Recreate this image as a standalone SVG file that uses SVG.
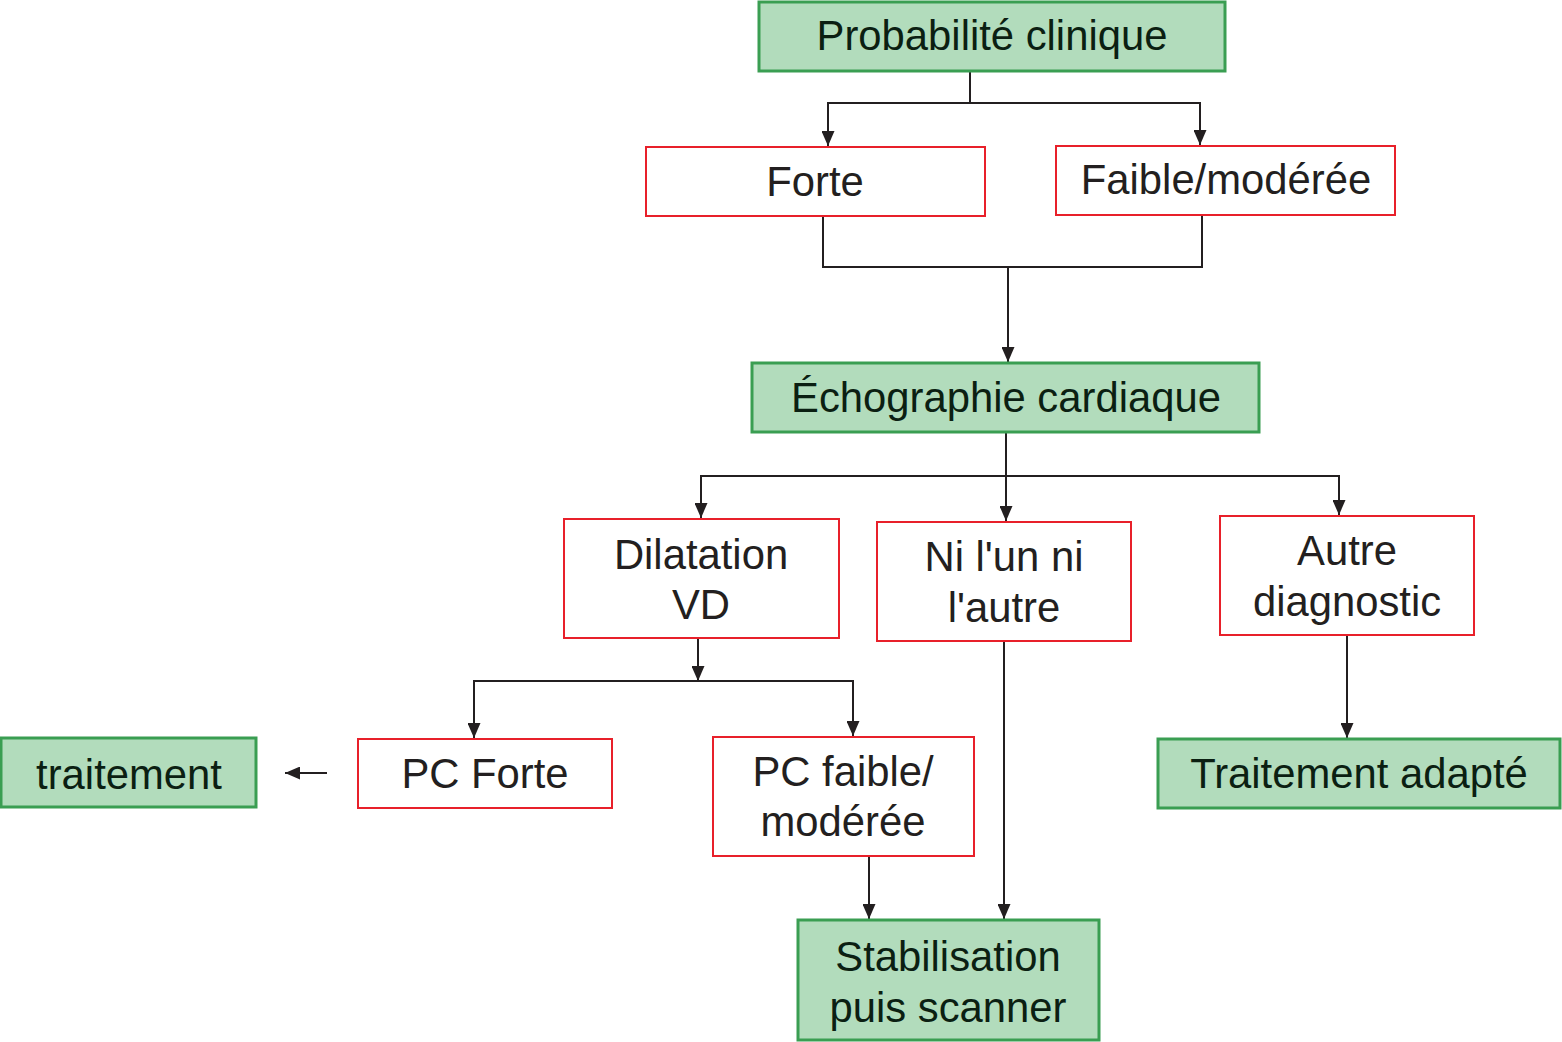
<svg xmlns="http://www.w3.org/2000/svg" width="1562" height="1042" viewBox="0 0 1562 1042">
<defs>
<style>
.g rect{fill:#b2dcbc;stroke:#3a9e52;stroke-width:3}
.r rect{fill:#fff;stroke:#e8202a;stroke-width:2}
text{font-family:"Liberation Sans",Arial,sans-serif;font-size:41.8px;text-anchor:middle}
.g text{fill:#0b1f12}
.r text{fill:#231f20}
#connectors path{fill:none;stroke:#231f20;stroke-width:2;marker-end:url(#arr)}
#connectors path.plain{marker-end:none}
</style>
<marker id="arr" viewBox="0 0 15 13" refX="15" refY="6.5" markerWidth="15" markerHeight="13" markerUnits="userSpaceOnUse" orient="auto">
<path d="M0,0 L15,6.5 L0,13 z" fill="#231f20"/>
</marker>
</defs>
<rect width="1562" height="1042" fill="#fff"/>
<g id="connectors">
<path class="plain" d="M970,71 V103"/>
<path d="M970,103 H828 V146"/>
<path d="M970,103 H1200 V145"/>
<path class="plain" d="M823,216 V267 H1202 V215"/>
<path d="M1008,267 V362"/>
<path class="plain" d="M1006,432 V476"/>
<path d="M1006,476 H701 V518"/>
<path d="M1006,476 V521"/>
<path d="M1006,476 H1339 V515"/>
<path d="M698,638 V681"/>
<path d="M698,681 H474 V738"/>
<path d="M698,681 H853 V736"/>
<path d="M327,773 H285"/>
<path d="M1347,635 V738"/>
<path d="M869,856 V919"/>
<path d="M1004,641 V919"/>
</g>
<g id="n-proba" class="g"><rect x="759" y="2" width="466" height="69"/><text x="992" y="50">Probabilité clinique</text></g>
<g id="n-forte" class="r"><rect x="646" y="147" width="339" height="69"/><text x="815" y="196">Forte</text></g>
<g id="n-faible" class="r"><rect x="1056" y="146" width="339" height="69"/><text x="1226" y="194">Faible/modérée</text></g>
<g id="n-echo" class="g"><rect x="752" y="363" width="507" height="69"/><text x="1006" y="412">Échographie cardiaque</text></g>
<g id="n-dilat" class="r"><rect x="564" y="519" width="275" height="119"/><text x="701" y="569">Dilatation</text><text x="701" y="619">VD</text></g>
<g id="n-ni" class="r"><rect x="877" y="522" width="254" height="119"/><text x="1004" y="571">Ni l'un ni</text><text x="1004" y="622">l'autre</text></g>
<g id="n-autre" class="r"><rect x="1220" y="516" width="254" height="119"/><text x="1347" y="565">Autre</text><text x="1347" y="616">diagnostic</text></g>
<g id="n-trait" class="g"><rect x="1" y="738" width="255" height="69"/><text x="129" y="789">traitement</text></g>
<g id="n-pcforte" class="r"><rect x="358" y="739" width="254" height="69"/><text x="485" y="788">PC Forte</text></g>
<g id="n-pcfaible" class="r"><rect x="713" y="737" width="261" height="119"/><text x="843" y="786">PC faible/</text><text x="843" y="836">modérée</text></g>
<g id="n-adapte" class="g"><rect x="1158" y="739" width="402" height="69"/><text x="1359" y="788">Traitement adapté</text></g>
<g id="n-stab" class="g"><rect x="798" y="920" width="301" height="120"/><text x="948" y="971">Stabilisation</text><text x="948" y="1022">puis scanner</text></g>
</svg>
